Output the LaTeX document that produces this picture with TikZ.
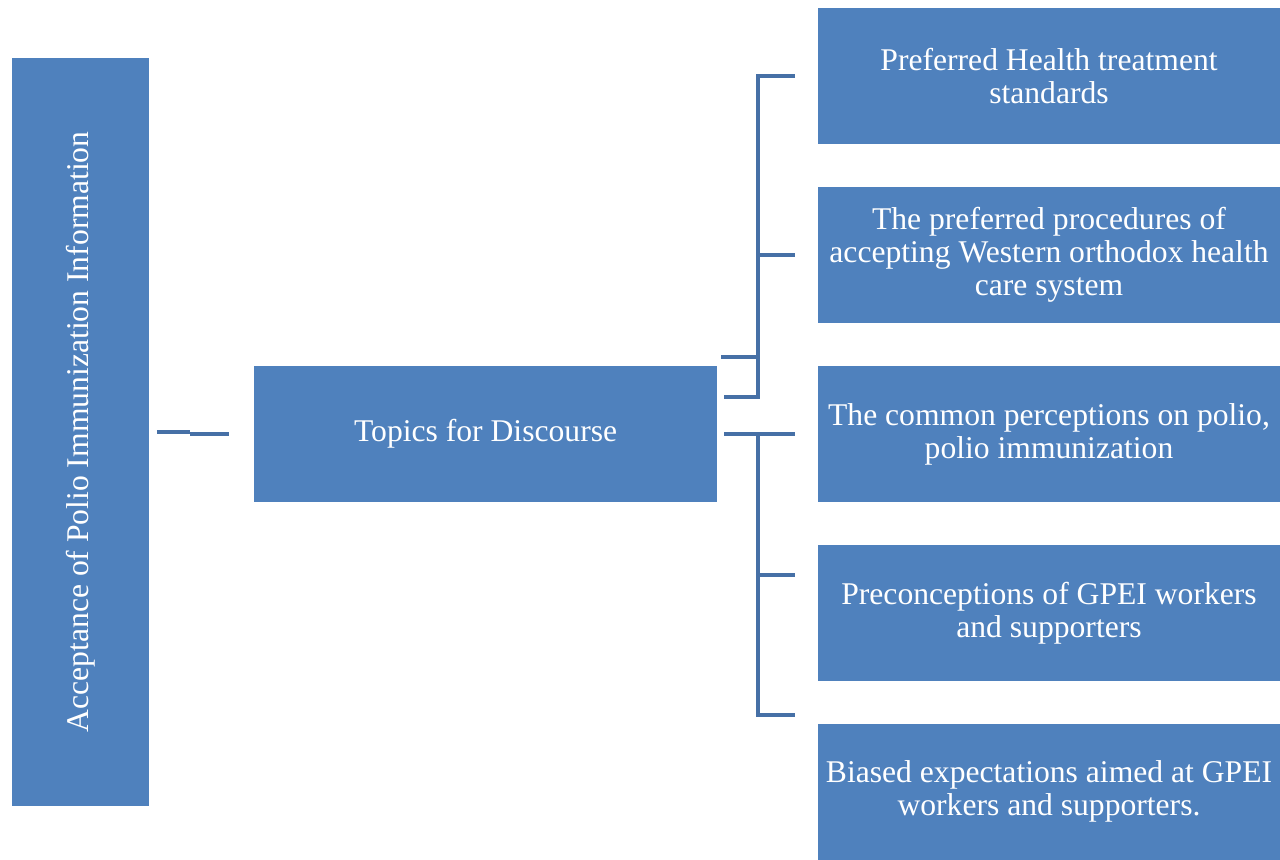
\documentclass[tikz,border=0pt]{standalone}
\usepackage{fontspec}
\setmainfont{Liberation Serif}
\usepackage{tikz}
\usetikzlibrary{positioning, calc}
\definecolor{boxblue}{RGB}{79,129,189}
\definecolor{linkblue}{RGB}{70,112,166}

\tikzset{
	topic/.style={draw=none, fill=boxblue, text=white, align=center, inner sep=2pt, outer sep=0pt,
		minimum width=9.24cm, minimum height=2.72cm, font=\fontsize{18}{18.8}\selectfont},
	link/.style={draw=linkblue, line width=0.08cm}
}

\begin{document}
\begin{tikzpicture}[x=0.02cm, y=-0.02cm]
		\useasboundingbox (0,0) rectangle (1280,859);
		% right column
		\node[topic] (r1) at (1049,76) {Preferred Health treatment\\standards};
		\node[topic, below=0.86cm of r1] (r2) {The preferred procedures of\\accepting Western orthodox health\\care system};
		\node[topic, below=0.86cm of r2] (r3) {The common perceptions on polio,\\polio immunization};
		\node[topic, below=0.86cm of r3] (r4) {Preconceptions of GPEI workers\\and supporters};
		\node[topic, below=0.86cm of r4] (r5) {Biased expectations aimed at GPEI\\workers and supporters.};
		
		% middle and left
		\node[topic, minimum width=9.26cm, left=2.02cm of r3] (mid) {Topics for Discourse};
		\node[topic, rotate=90, minimum width=14.96cm, minimum height=2.74cm] (accept) at (80.5,432)
			{Acceptance of Polio Immunization Information};
		
		% brackets
		\coordinate (ua) at (758,76);
		\coordinate (ub) at (758,397);
		\coordinate (la) at (758,434);
		\coordinate (lb) at (758,715);
		
		\draw[link] ([xshift=-0.46cm]r1.west |- ua) -- (ua) -- (ub) -- ++(-34,0);
		\draw[link] (ua |- r2.west) -- ([xshift=-0.46cm]r2.west);
		\draw[link] (ua |- 0,357) -- ++(-37,0);
		\draw[link] ([xshift=0.14cm]mid.east |- la) -- ([xshift=-0.46cm]r3.west |- la);
		\draw[link] (la) -- (lb) -- ++(37,0);
		\draw[link] (la |- 0,575) -- ++(37,0);
		
		% left link
		\draw[link] ([xshift=0.16cm]accept.south |- 0,432) -- (190,432);
		\draw[link] (190,434) -- ([xshift=-0.5cm]mid.west |- 0,434);
	\end{tikzpicture}
\end{document}
